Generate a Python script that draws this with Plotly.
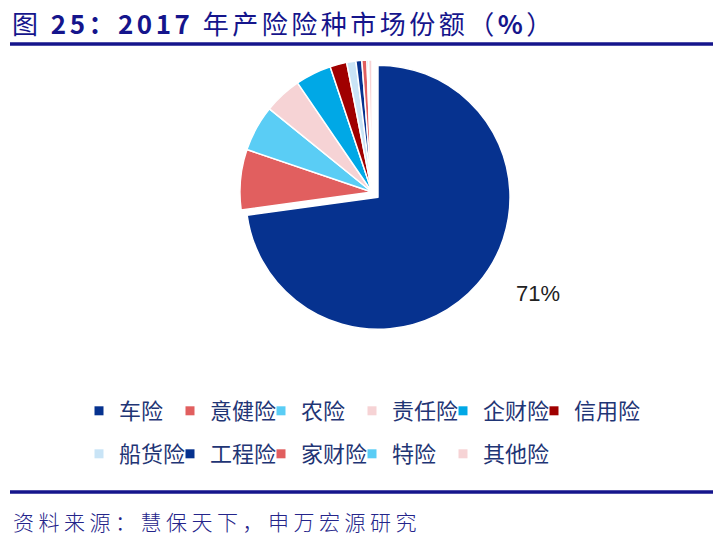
import plotly.graph_objects as go

# ---------------- data ----------------
categories = ["车险", "意健险", "农险", "责任险", "企财险", "信用险",
              "船货险", "工程险", "家财险", "特险", "其他险"]
shares = [71, 7.2, 5.5, 4.5, 4.3, 2.0, 1.1, 0.7, 0.6, 0.2, 0.4]
slice_colors = ["#06328F", "#E15F5F", "#5ACDF5", "#F6D3D5", "#00A8E6", "#A00000",
                "#C9E4F6", "#06328F", "#E15F5F", "#5ACDF5", "#F6D3D5"]
title_text = "图 <b>25：2017</b> 年产险险种市场份额（<b>%</b>）"
source_text = "资料来源：慧保天下，申万宏源研究"

W, H = 723, 542
NAVY = "#15158C"
FONT = "Noto Sans CJK SC"

pulls = [0.06] + [0] * (len(shares) - 1)

fig = go.Figure()
fig.add_trace(go.Pie(
    labels=categories, values=shares, sort=False, direction="clockwise",
    rotation=0, pull=pulls,
    marker=dict(colors=slice_colors, line=dict(color="white", width=1.5)),
    textinfo="none",
    showlegend=False, hoverinfo="label+value",
    domain=dict(x=[232 / W, 512 / W], y=[1 - 332 / H, 1 - 52 / H]),
))

# legend entries (two rows)
for i, (name, col) in enumerate(zip(categories, slice_colors)):
    fig.add_trace(go.Scatter(
        x=[None], y=[None], mode="markers", name=name,
        marker=dict(symbol="square", size=9, color=col),
        legend="legend" if i < 6 else "legend2", showlegend=True,
    ))
# invisible spacer at the end of each legend row so the last label is not clipped
for leg in ("legend", "legend2"):
    fig.add_trace(go.Scatter(
        x=[None], y=[None], mode="markers", name=" ",
        marker=dict(symbol="square", size=1, color="rgba(0,0,0,0)",
                    line=dict(width=0, color="rgba(0,0,0,0)")),
        legend=leg, showlegend=True, hoverinfo="skip",
    ))

leg_common = dict(orientation="h", xanchor="left", yanchor="middle",
                  entrywidth=46, entrywidthmode="pixels",
                  font=dict(size=22, color="#1F3575", family=FONT),
                  bgcolor="rgba(0,0,0,0)", itemclick=False, itemdoubleclick=False)

fig.update_layout(
    width=W, height=H,
    margin=dict(l=0, r=0, t=0, b=0),
    paper_bgcolor="white", plot_bgcolor="white",
    xaxis=dict(visible=False), yaxis=dict(visible=False),
    legend=dict(x=79 / W, y=1 - 411 / H, **leg_common),
    legend2=dict(x=79 / W, y=1 - 454 / H, **leg_common),
    shapes=[
        dict(type="line", xref="paper", yref="paper", x0=10 / W, x1=713 / W,
             y0=1 - 44 / H, y1=1 - 44 / H, line=dict(color=NAVY, width=3.5)),
        dict(type="line", xref="paper", yref="paper", x0=10 / W, x1=713 / W,
             y0=1 - 492 / H, y1=1 - 492 / H, line=dict(color=NAVY, width=3.5)),
    ],
    annotations=[
        dict(text=f'<span style="letter-spacing:3.5px">{title_text}</span>',
             xref="paper", yref="paper", x=10 / W, y=1 - 22 / H,
             xanchor="left", yanchor="middle", showarrow=False,
             font=dict(size=26, color=NAVY, family=FONT)),
        dict(text=f'<span style="letter-spacing:4.5px">{source_text}</span>',
             xref="paper", yref="paper", x=11 / W, y=1 - 521 / H,
             xanchor="left", yanchor="middle", showarrow=False,
             font=dict(size=21, color="#24248A", family=FONT, weight=300)),
        dict(text=f"{shares[0]:.0f}%", xref="paper", yref="paper",
             x=538 / W, y=1 - 293 / H, xanchor="center", yanchor="middle",
             showarrow=False,
             font=dict(size=22, color="#222222", family="Liberation Sans")),
    ],
)

fig.write_html("out.html")
